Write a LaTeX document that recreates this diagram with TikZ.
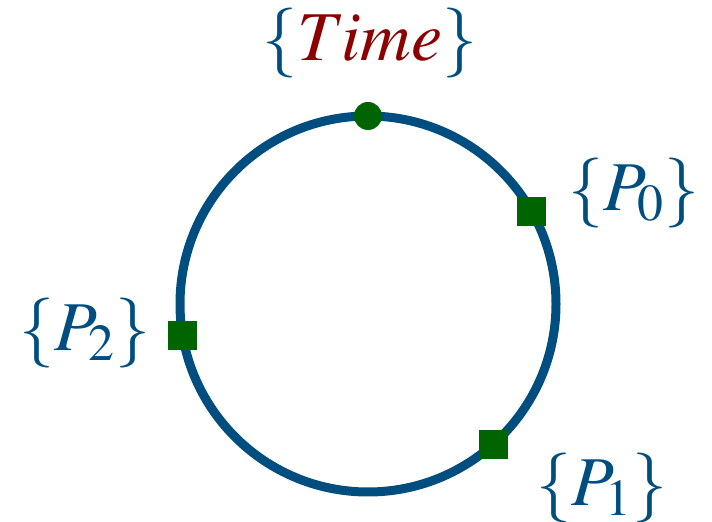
\documentclass[tikz,border=0pt]{standalone}
\usepackage{mathptmx}
\usepackage{tikz}
\usetikzlibrary{calc}
\definecolor{ringblue}{RGB}{0,78,128}
\definecolor{markgreen}{RGB}{0,100,0}
\definecolor{timered}{RGB}{139,0,0}

\begin{document}
\begin{tikzpicture}[x=0.5pt, y=-0.5pt,
    every node/.style={font=\fontsize{35}{40}\selectfont, text=ringblue},
    marker/.style={fill=markgreen, minimum size=14.5pt, inner sep=0pt},
    tick/.style={circle, fill=markgreen, minimum size=14pt, inner sep=0pt}]
  \useasboundingbox (0,0) rectangle (712,522);
  % Ring
  \coordinate (c) at (368,304);
  \draw[ringblue, line width=4.5pt] (c) circle[radius=94pt];
  % Marks on the ring
  \node[tick] (time) at ($(c)+(90:94pt)$) {};
  \node[marker] (p0) at ($(c)+(29.3:94pt)$) {};
  \node[marker] (p1) at ($(c)+(-48.2:94pt)$) {};
  \node[marker] (p2) at ($(c)+(189.5:94pt)$) {};
  % Labels
  \node (timelabel) at (370,43) {$\{\textcolor{timered}{Time}\}$};
  \node (p0label) at (634,193) {$\{P_0\}$};
  \node (p1label) at (602,488) {$\{P_1\}$};
  \node (p2label) at (85,333) {$\{P_2\}$};
\end{tikzpicture}
\end{document}
